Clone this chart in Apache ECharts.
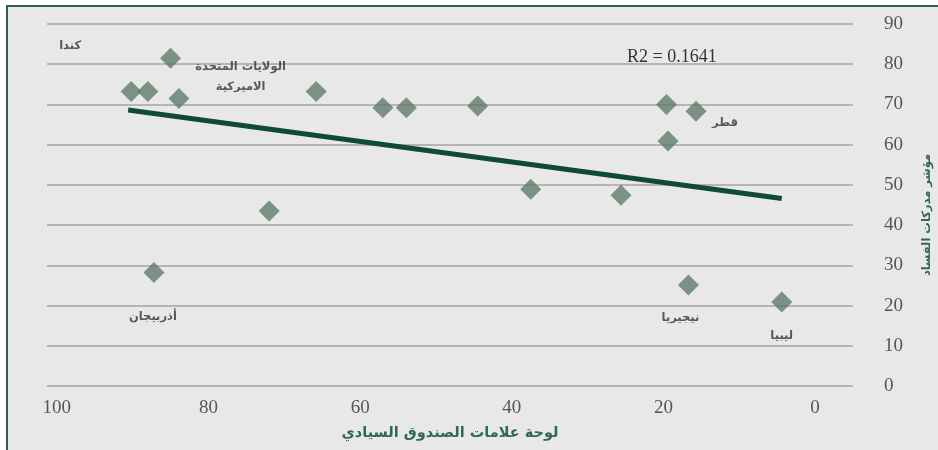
<!DOCTYPE html>
<html>
<head>
<meta charset="utf-8">
<script src="https://cdn.jsdelivr.net/npm/echarts@6/dist/echarts.min.js"></script>
<style>
html,body{margin:0;padding:0;background:#fff;}
#chart{width:938px;height:450px;}
</style>
</head>
<body>
<div id="chart"></div>
<script>
// Sovereign fund scoreboard (x) vs Corruption Perceptions Index (y)
const fundScores = [90.2, 88.0, 85.0, 83.9, 65.8, 57.0, 53.9, 44.5, 19.6, 15.7, 19.4, 37.5, 25.6, 72.0, 87.2, 16.7, 4.4];
const cpiScores  = [73.2, 73.2, 81.5, 71.5, 73.2, 69.2, 69.2, 69.6, 70.0, 68.3, 60.9, 48.9, 47.4, 43.5, 28.2, 25.1, 20.9];
const trendX = [90.6, 4.4];
const trendY = [68.6, 46.6];
const countryNames = ['كندا', 'الولايات المتحدة\nالاميركية', 'قطر', 'أذربيجان', 'نيجيريا', 'ليبيا'];
const countryPointIndex = [0, 2, 9, 14, 15, 16];
const xTicks = [0, 20, 40, 60, 80, 100];
const yTicks = [0, 10, 20, 30, 40, 50, 60, 70, 80, 90];
const r2Text = 'R2 = 0.1641';
const xTitle = 'لوحة علامات الصندوق السيادي';
const yTitle = 'مؤشر مدركات الفساد';

const labelOffsets = [[-61, -46], [70, 19], [29, 12], [-1, 44], [-8, 33], [0, 34]];

const scatterData = fundScores.map((x, i) => {
  const item = { value: [x, cpiScores[i]] };
  const k = countryPointIndex.indexOf(i);
  if (k >= 0) {
    item.label = {
      show: true,
      formatter: countryNames[k],
      position: 'inside',
      offset: labelOffsets[k],
      color: '#333',
      fontFamily: 'DejaVu Sans',
      fontSize: 11.5,
      fontWeight: 'bold',
      lineHeight: 20,
      align: 'center'
    };
  }
  return item;
});

const chart = echarts.init(document.getElementById('chart'), null, { renderer: 'canvas' });
const numFont = 'Liberation Serif';
chart.setOption({
  animation: false,
  backgroundColor: '#ffffff',
  graphic: [
    { type: 'rect', z: -10, silent: true,
      shape: { x: 7, y: 6, width: 940, height: 450 },
      style: { fill: '#e7e8e7', stroke: '#2f5e48', lineWidth: 2 } },
    { type: 'text', left: 627, top: 48, z: 10,
      style: { text: r2Text, fill: '#333', font: '18px "Liberation Serif"' } }
  ],
  grid: { left: 47, right: 85, top: 24, bottom: 64, outerBoundsMode: 'none', containLabel: false },
  xAxis: {
    type: 'value', inverse: true, min: -5, max: 101.3,
    axisLine: { show: false }, axisTick: { show: false }, splitLine: { show: false },
    axisLabel: { customValues: xTicks, color: '#555', fontFamily: numFont, fontSize: 19, margin: 13 },
    name: xTitle, nameLocation: 'middle', nameGap: 40,
    nameTextStyle: { color: '#2e6a4c', fontFamily: 'DejaVu Sans', fontWeight: 'bold', fontSize: 14.5 }
  },
  yAxis: {
    type: 'value', position: 'right', min: 0, max: 90, interval: 10,
    axisLine: { show: false }, axisTick: { show: false },
    splitLine: { show: true, lineStyle: { color: '#a3a4a3', width: 1.5 } },
    axisLabel: { customValues: yTicks, color: '#555', fontFamily: numFont, fontSize: 19, margin: 31 },
    name: yTitle, nameLocation: 'middle', nameGap: 68, nameRotate: 90,
    nameTextStyle: { color: '#2e6a4c', fontFamily: 'DejaVu Sans', fontWeight: 'bold', fontSize: 11.5, padding: [0, 20, 0, 0] }
  },
  series: [
    {
      type: 'line', data: trendX.map((x, i) => [x, trendY[i]]),
      symbol: 'none', lineStyle: { color: '#0e4a34', width: 5 }, z: 2
    },
    {
      type: 'scatter', data: scatterData, symbol: 'diamond', symbolSize: 21,
      itemStyle: { color: '#607a6a' }, z: 3
    }
  ]
});
</script>
</body>
</html>
